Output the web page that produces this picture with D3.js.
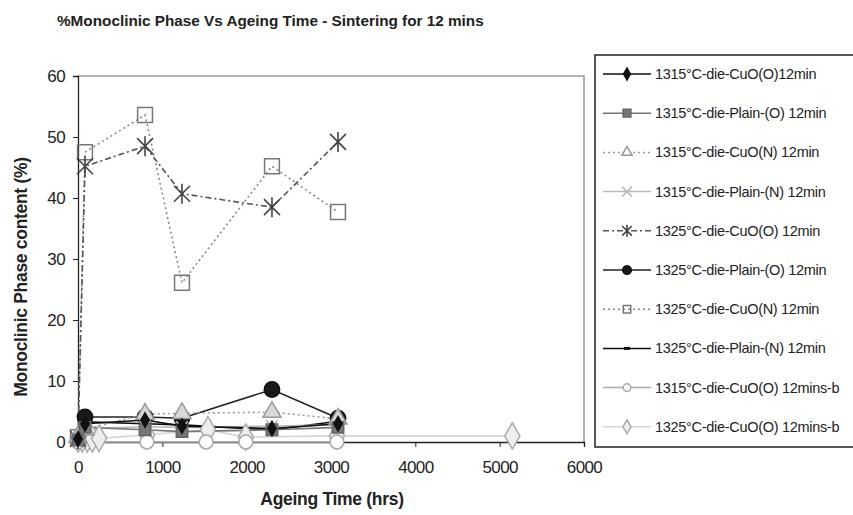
<!DOCTYPE html>
<html>
<head>
<meta charset="utf-8">
<script src="https://cdn.jsdelivr.net/npm/d3@7"></script>
<style>
  body { margin: 0; background: #fff; }
  text { font-family: "Liberation Sans", Arial, sans-serif; }
</style>
</head>
<body>
<div id="chart"></div>
<script>
// series names (legend order)
var seriesNames = [
  "1315°C-die-CuO(O)12min",
  "1315°C-die-Plain-(O) 12min",
  "1315°C-die-CuO(N) 12min",
  "1315°C-die-Plain-(N) 12min",
  "1325°C-die-CuO(O) 12min",
  "1325°C-die-Plain-(O) 12min",
  "1325°C-die-CuO(N) 12min",
  "1325°C-die-Plain-(N) 12min",
  "1315°C-die-CuO(O) 12mins-b",
  "1325°C-die-CuO(O) 12mins-b"
];

// [ageing time (hrs), monoclinic %]
var cuO1315 = [[0, 0.5], [83, 3.0], [795, 3.6], [1233, 2.6], [2300, 2.2], [3083, 3.0]];
var plainO1315 = [[0, 0.3], [83, 2.4], [795, 2.0], [1233, 1.7], [2300, 2.0], [3083, 2.4]];
var cuON1315 = [[0, 0.8], [83, 2.0], [795, 4.6], [1233, 4.7], [2300, 4.9], [3083, 3.8]];
var plainN1315 = [[0, 0.6], [83, 2.2], [795, 2.5], [1233, 2.4], [2300, 2.6], [3083, 2.8]];
var cuO1325 = [[0, 0.5], [83, 45.2], [795, 48.5], [1233, 40.7], [2300, 38.5], [3083, 49.2]];
var plainO1325 = [[83, 4.1], [795, 4.1], [1233, 3.9], [2300, 8.6], [3083, 3.9]];
var cuON1325 = [[0, 0.8], [83, 47.5], [795, 53.6], [1233, 26.1], [2300, 45.2], [3083, 37.7]];
var plainN1325 = [[83, 3.3], [795, 3.0], [1233, 2.8], [2300, 2.0], [3083, 3.4]];
var cuO1315b = [[0, 0], [818, 0], [1520, 0], [1990, 0], [3070, 0]];
var cuO1325b = [[0, 0.5], [50, 0.5], [110, 0.5], [170, 0.5], [250, 0.6], [818, 1.2], [1540, 2.0], [1990, 0.8], [3070, 1.0], [5150, 1.0]];

var xTicks = [0, 1000, 2000, 3000, 4000, 5000, 6000];
var yTicks = [0, 10, 20, 30, 40, 50, 60];

var svgWidth = 853;
var svgHeight = 515;

var margin = { top: 76, right: 269, bottom: 73, left: 78 };
var width = svgWidth - margin.left - margin.right;
var height = svgHeight - margin.top - margin.bottom;

var styles = [
  { data: cuO1315, stroke: "#111", dash: null, sym: d3.symbolDiamond, size: 60, fill: "#111", mstroke: "#111", lsize: 40 },
  { data: plainO1315, stroke: "#777", dash: null, sym: d3.symbolSquare, size: 130, fill: "#777", mstroke: "#666", lsize: 60 },
  { data: cuON1315, stroke: "#999", dash: "2,3", sym: d3.symbolTriangle, size: 140, fill: "#d8d8d8", mstroke: "#999", lsize: 45, lfill: "#fff" },
  { data: plainN1315, stroke: "#bbb", dash: null, sym: "x", size: 6, fill: "none", mstroke: "#bbb", lsize: 5 },
  { data: cuO1325, stroke: "#555", dash: "6,3,2,3", sym: "star", size: 10, fill: "none", mstroke: "#444", lsize: 6 },
  { data: plainO1325, stroke: "#222", dash: null, sym: d3.symbolCircle, size: 185, fill: "#1a1a1a", mstroke: "#111", lsize: 60 },
  { data: cuON1325, stroke: "#888", dash: "2,3", sym: d3.symbolSquare, size: 220, fill: "none", mstroke: "#777", lsize: 55 },
  { data: plainN1325, stroke: "#111", dash: null, sym: "bar", size: 4, fill: "#111", mstroke: "#111", lsize: 3 },
  { data: cuO1315b, stroke: "#aaa", dash: null, sym: d3.symbolCircle, size: 150, fill: "#fff", mstroke: "#aaa", lsize: 45 },
  { data: cuO1325b, stroke: "#d5d5d5", dash: null, sym: d3.symbolDiamond, size: 200, fill: "#eee", mstroke: "#aaa", lsize: 55 }
];

var svg = d3.select("#chart")
  .append("svg")
  .attr("width", svgWidth)
  .attr("height", svgHeight);

svg.append("text")
  .attr("x", 57)
  .attr("y", 26)
  .style("font-size", "15.3px")
  .style("font-weight", "bold")
  .attr("fill", "#222")
  .text("%Monoclinic Phase Vs Ageing Time - Sintering for 12 mins");

var chartGroup = svg.append("g")
  .attr("transform", `translate(${margin.left}, ${margin.top})`);

var xScale = d3.scaleLinear().range([0, width]).domain([0, 6000]);
var yScale = d3.scaleLinear().range([height, 0]).domain([0, 60]);

// plot area frame (top + right)
chartGroup.append("path")
  .attr("d", `M0,0H${width}V${height}`)
  .attr("fill", "none")
  .attr("stroke", "#999")
  .attr("stroke-width", 1.5);

var leftAxis = d3.axisLeft(yScale).tickValues(yTicks).tickSize(5).tickPadding(8).tickFormat(d3.format("d"));
var bottomAxis = d3.axisBottom(xScale).tickValues(xTicks).tickSize(5).tickPadding(14).tickFormat(d3.format("d"));

var yG = chartGroup.append("g").call(leftAxis);
var xG = chartGroup.append("g")
  .attr("transform", `translate(0, ${height})`)
  .call(bottomAxis);

[yG, xG].forEach(g => {
  g.select(".domain").attr("stroke", "#222").attr("stroke-width", 1.3);
  g.selectAll(".tick line").attr("stroke", "#222");
  g.selectAll("text")
    .style("font-size", "17px")
    .style("letter-spacing", "-0.6px")
    .style("font-family", "'Liberation Sans', Arial, sans-serif")
    .attr("fill", "#222");
});

function drawMarker(g, s, size, fill) {
  if (s.sym === "star") {
    // asterisk: vertical stroke plus an X
    var r = size;
    var d = r * 0.8;
    var p = `M0,${-r}L0,${r}M${-d},${-d}L${d},${d}M${-d},${d}L${d},${-d}`;
    g.append("path").attr("d", p).attr("stroke", s.mstroke).attr("stroke-width", 1.6).attr("fill", "none");
  } else if (s.sym === "x") {
    var q = size;
    g.append("path")
      .attr("d", `M${-q},${-q}L${q},${q}M${-q},${q}L${q},${-q}`)
      .attr("stroke", s.mstroke)
      .attr("stroke-width", 1.5);
  } else if (s.sym === "bar") {
    g.append("rect").attr("x", -size).attr("y", -1.5).attr("width", size * 2).attr("height", 3).attr("fill", s.fill);
  } else {
    var sym = d3.symbol().type(s.sym).size(size);
    g.append("path")
      .attr("d", sym())
      .attr("fill", fill)
      .attr("stroke", s.mstroke)
      .attr("stroke-width", 1.5);
  }
}

var line = d3.line()
  .x(d => xScale(d[0]))
  .y(d => yScale(d[1]));

// draw series in reverse order so the first ones sit on top
styles.slice().reverse().forEach(s => {
  chartGroup.append("path")
    .datum(s.data)
    .attr("d", line)
    .attr("fill", "none")
    .attr("stroke", s.stroke)
    .attr("stroke-width", 1.6)
    .attr("stroke-dasharray", s.dash);
});

styles.slice().reverse().forEach(s => {
  s.data.forEach(d => {
    var g = chartGroup.append("g")
      .attr("transform", `translate(${xScale(d[0])}, ${yScale(d[1])})`);
    drawMarker(g, s, s.size, s.fill);
  });
});

// axis labels
svg.append("text")
  .attr("transform", "rotate(-90)")
  .attr("x", -277)
  .attr("y", 27)
  .attr("text-anchor", "middle")
  .style("font-size", "17.5px")
  .style("font-weight", "bold")
  .style("letter-spacing", "-0.3px")
  .attr("fill", "#222")
  .text("Monoclinic Phase content (%)");

svg.append("text")
  .attr("x", 332)
  .attr("y", 505)
  .attr("text-anchor", "middle")
  .style("font-size", "17.5px")
  .style("font-weight", "bold")
  .style("letter-spacing", "-0.3px")
  .attr("fill", "#222")
  .text("Ageing Time (hrs)");

// legend
var legend = svg.append("g");
legend.append("rect")
  .attr("x", 595)
  .attr("y", 55)
  .attr("width", 300)
  .attr("height", 392)
  .attr("fill", "#fff")
  .attr("stroke", "#222")
  .attr("stroke-width", 1.5);

seriesNames.forEach((name, i) => {
  var s = styles[i];
  var ly = 74 + i * 39.2;
  legend.append("line")
    .attr("x1", 603).attr("x2", 651)
    .attr("y1", ly).attr("y2", ly)
    .attr("stroke", s.stroke)
    .attr("stroke-width", 1.5)
    .attr("stroke-dasharray", s.dash);
  var g = legend.append("g").attr("transform", `translate(627, ${ly})`);
  drawMarker(g, s, s.lsize, s.lfill || s.fill);
  legend.append("text")
    .attr("x", 655)
    .attr("y", ly + 5)
    .style("font-size", "14.5px")
    .style("letter-spacing", "-0.3px")
    .attr("fill", "#222")
    .text(name);
});
</script>
</body>
</html>
